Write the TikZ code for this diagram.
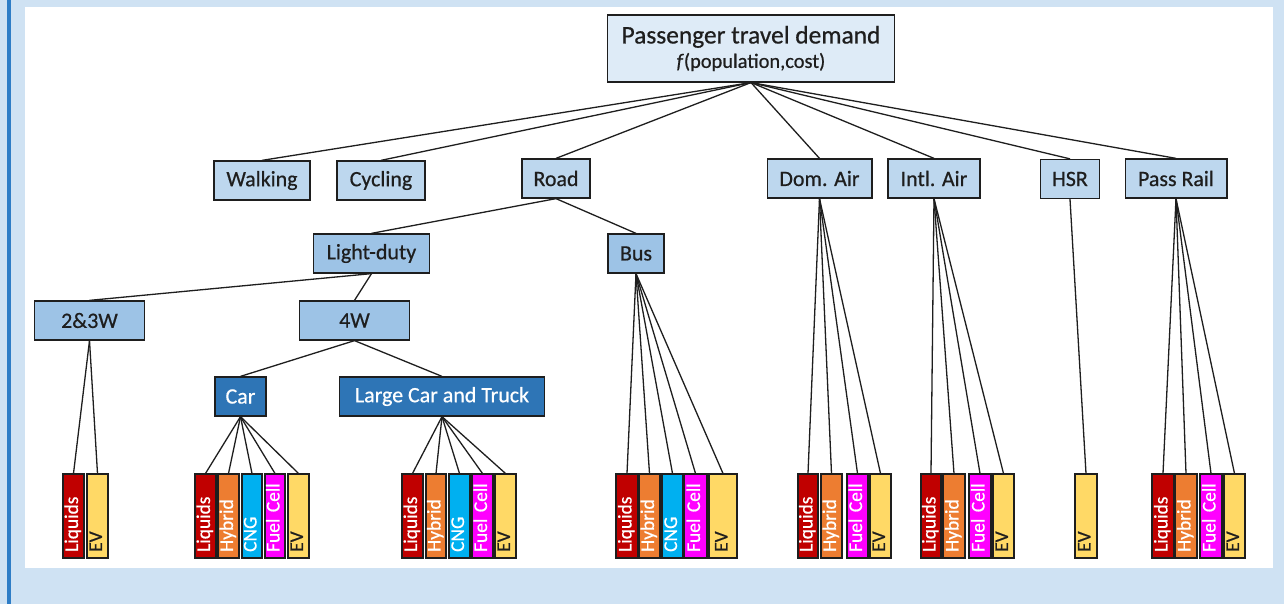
\documentclass[tikz,border=0pt]{standalone}
\usepackage{fontspec}
\setmainfont{Carlito}[FakeBold=0.6]

\definecolor{bandblue}{RGB}{207,226,243}
\definecolor{barblue}{RGB}{46,125,198}
\definecolor{rootfill}{RGB}{222,235,247}
\definecolor{modefill}{RGB}{189,215,238}
\definecolor{subfill}{RGB}{157,195,230}
\definecolor{vehfill}{RGB}{46,117,182}
\definecolor{liqfill}{RGB}{192,0,0}
\definecolor{hybfill}{RGB}{237,125,49}
\definecolor{cngfill}{RGB}{0,176,240}
\definecolor{fcfill}{RGB}{255,0,255}
\definecolor{evfill}{RGB}{255,217,102}
\definecolor{edge}{RGB}{30,30,30}
\definecolor{ink}{RGB}{30,30,30}

\begin{document}
\begin{tikzpicture}[x=1bp, y=-1bp,
  every node/.style={font=\fontsize{22}{26}\selectfont},
  box/.style={draw=edge, line width=1.4bp, inner sep=0pt, minimum height=39pt, text=ink},
  rootbox/.style={box, fill=rootfill},
  modebox/.style={box, fill=modefill},
  subbox/.style={box, fill=subfill},
  vehbox/.style={box, fill=vehfill, text=white},
  fuel/.style={draw=edge, line width=1.4bp, rotate=90, minimum width=84pt,
    inner xsep=6pt, inner ysep=0pt, text width=72pt, align=left,
    text height=13pt, text depth=4pt, font=\fontsize{19.5}{19.5}\selectfont},
  liq/.style={fill=liqfill, text=white},
  hyb/.style={fill=hybfill, text=white},
  cng/.style={fill=cngfill, text=white},
  fc/.style={fill=fcfill, text=white},
  ev/.style={fill=evfill, text=ink},
  link/.style={draw=edge, line width=1.3bp}]

% frame
\fill[bandblue] (0,0) rectangle (1284,604);
\fill[barblue] (7,0) rectangle (11,604);
\fill[white] (25,7) rectangle (1273,568);

% demand and modes
\node[rootbox, minimum width=288pt, minimum height=67pt, align=center,
      font=\fontsize{25.5}{24.5}\selectfont] (demand) at (751,48.5)
  {Passenger travel demand\\{\fontsize{20.5}{24.5}\selectfont\textit{f}(population,cost)}};

\node[modebox, minimum width=96pt]  (walking)  at (262,180.5)  {Walking};
\node[modebox, minimum width=88pt]  (cycling)  at (381,180.5)  {Cycling};
\node[modebox, minimum width=68pt]  (road)     at (556,178.5)  {Road};
\node[modebox, minimum width=105pt] (domair)   at (819.5,178.5) {Dom. Air};
\node[modebox, minimum width=92pt]  (intlair)  at (934,178.5)  {Intl. Air};
\node[modebox, minimum width=59pt]  (hsr)      at (1070,179)   {HSR};
\node[modebox, minimum width=102pt] (passrail) at (1176,178.5) {Pass Rail};

\foreach \m in {walking,cycling,road,domair,intlair,hsr,passrail}
    \draw[link] (demand.south) -- (\m.north);

% road split
\node[subbox, minimum width=117pt] (lightduty) at (371.5,253.5) {Light-duty};
\node[subbox, minimum width=56pt]  (bus)       at (636,253.5)   {Bus};
\node[subbox, minimum width=111pt] (twothree)  at (89.5,320.5)  {2\&3W};
\node[subbox, minimum width=111pt] (fourw)     at (354.5,320.5) {4W};
\node[vehbox, minimum width=51pt]  (car)       at (240.5,396.5) {Car};
\node[vehbox, minimum width=206pt] (largecar)  at (442,396.5)   {Large Car and Truck};

\draw[link] (road.south) -- (lightduty.north);
\draw[link] (road.south) -- (bus.north);
\draw[link] (lightduty.south) -- (twothree.north);
\draw[link] (lightduty.south) -- (fourw.north);
\draw[link] (fourw.south) -- (car.north);
\draw[link] (fourw.south) -- (largecar.north);

% fuel bars
\foreach \n/\x/\w/\s/\t/\p in {
    a1/63/21/liq/Liquids/twothree, a2/87/21/ev/EV/twothree,
    c1/195/21/liq/Liquids/car, c2/218/21/hyb/Hybrid/car, c3/242/20/cng/CNG/car,
    c4/265/20/fc/Fuel Cell/car, c5/288/21/ev/EV/car,
    l1/402/21/liq/Liquids/largecar, l2/426/20/hyb/Hybrid/largecar, l3/449/21/cng/CNG/largecar,
    l4/472/21/fc/Fuel Cell/largecar, l5/495/21/ev/EV/largecar,
    b1/616/22/liq/Liquids/bus, b2/639/21/hyb/Hybrid/bus, b3/662/21/cng/CNG/bus,
    b4/684/23/fc/Fuel Cell/bus, b5/709/28/ev/EV/bus,
    d1/798/20/liq/Liquids/domair, d2/821/21/hyb/Hybrid/domair,
    d3/847/21/fc/Fuel Cell/domair, d4/870/21/ev/EV/domair,
    i1/921/20/liq/Liquids/intlair, i2/943/22/hyb/Hybrid/intlair,
    i3/969/22/fc/Fuel Cell/intlair, i4/993/21/ev/EV/intlair,
    h1/1075/22/ev/EV/hsr,
    r1/1152/22/liq/Liquids/passrail, r2/1175/22/hyb/Hybrid/passrail,
    r3/1200/22/fc/Fuel Cell/passrail, r4/1224/21/ev/EV/passrail}{
    \node[fuel, \s, minimum height=\w pt] (\n) at ({\x+\w/2},516) {\t};
    \draw[link] (\p.south) -- (\n.east);
}

\end{tikzpicture}
\end{document}
